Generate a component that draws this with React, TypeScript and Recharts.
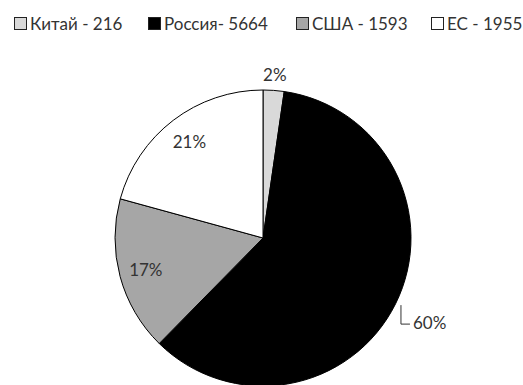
import { PieChart, Pie, Cell } from "recharts";

const countries = ["Китай", "Россия", "США", "ЕС"];
const values = [216, 5664, 1593, 1955];
const legendLabels = ["Китай - 216", "Россия- 5664", "США - 1593", "ЕС - 1955"];
const colors = ["#d9d9d9", "#000000", "#a6a6a6", "#ffffff"];

const data = countries.map((name, i) => ({ name, value: values[i] }));

const FONT = "Lato, 'Open Sans', sans-serif";
const RADIAN = Math.PI / 180;
// left edge of each legend item, to space them like the original
const legendLeft = [14, 148, 296, 431];

function renderLabel(props: any) {
    const { cx, cy, midAngle, outerRadius, percent } = props;
    const text = `${Math.round(percent * 100)}%`;
    const cos = Math.cos(-midAngle * RADIAN);
    const sin = Math.sin(-midAngle * RADIAN);

    if (percent < 0.05) {
        const r = outerRadius + 16;
        return (
            <text x={cx + r * cos} y={cy + r * sin} fill="#333" fontSize={17} fontFamily={FONT}
                textAnchor="middle" dominantBaseline="central">{text}</text>
        );
    }
    if (percent > 0.5) {
        // leader line bent like an "L"
        const sx = cx + (outerRadius + 6) * cos;
        const sy = cy + (outerRadius + 3) * sin;
        return (
            <g>
                <path d={`M${sx},${sy} L${sx},${sy + 19} L${sx + 9},${sy + 19}`} stroke="#333" fill="none" strokeWidth={1} />
                <text x={sx + 12} y={sy + 17} fill="#333" fontSize={17} fontFamily={FONT}
                    textAnchor="start" dominantBaseline="central">{text}</text>
            </g>
        );
    }
    const r = outerRadius * 0.82;
    return (
        <text x={cx + r * cos} y={cy + r * sin} fill="#333" fontSize={17} fontFamily={FONT}
            textAnchor="middle" dominantBaseline="central">{text}</text>
    );
}

function ChartLegend() {
    return (
        <>
            {legendLabels.map((label, i) => (
                <div key={label} style={{
                    position: "absolute", top: 13, left: legendLeft[i], display: "flex", alignItems: "center",
                    fontFamily: FONT, fontSize: 17, color: "#333", whiteSpace: "nowrap",
                }}>
                    <span style={{ width: 11, height: 11, background: colors[i], border: "1px solid #222", marginRight: 3, display: "inline-block" }} />
                    <span>{label}</span>
                </div>
            ))}
        </>
    );
}

export default function App() {
    return (
        <div style={{ position: "absolute", left: 0, top: 0, width: 523, height: 385, background: "#fff", overflow: "hidden" }}>
            <ChartLegend />
            <PieChart width={523} height={385} margin={{ top: 0, right: 0, bottom: 0, left: 0 }}>
                <Pie
                    data={data}
                    dataKey="value"
                    nameKey="name"
                    cx={263}
                    cy={238}
                    outerRadius={148}
                    startAngle={90}
                    endAngle={-270}
                    stroke="#000"
                    strokeWidth={1}
                    label={renderLabel}
                    labelLine={false}
                    isAnimationActive={false}
                >
                    {data.map((d, i) => (
                        <Cell key={d.name} fill={colors[i]} />
                    ))}
                </Pie>
            </PieChart>
        </div>
    );
}
